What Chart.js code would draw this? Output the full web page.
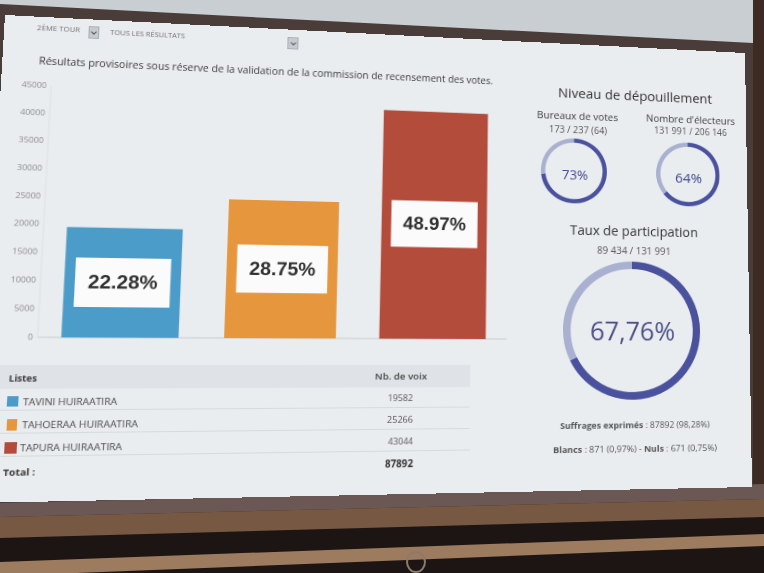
<!DOCTYPE html>
<html lang="fr">
<head>
<meta charset="utf-8">
<title>Résultats provisoires – 2ème tour</title>
<script src="https://cdn.jsdelivr.net/npm/chart.js@4.4.1/dist/chart.umd.min.js"></script>
<style>
html,body{margin:0;padding:0;width:764px;height:573px;overflow:hidden;background:#1c1513;}
#bg{position:absolute;left:0;top:0;}
#screen{position:absolute;left:0;top:0;width:760px;height:480px;background:#eaedf0;transform-origin:0 0;overflow:hidden;}
.tx{position:absolute;white-space:nowrap;line-height:1;transform:translate(-50%,-50%);font-family:"Open Sans",sans-serif;}
.rc{position:absolute;box-sizing:border-box;}
.chev{position:absolute;left:50%;top:42%;width:3px;height:3px;border-right:1px solid #555;border-bottom:1px solid #555;transform:translate(-50%,-50%) rotate(45deg);}
canvas{position:absolute;}
</style>
</head>
<body>
<svg id="bg" width="764" height="573" viewBox="0 0 764 573">
  <rect x="0" y="0" width="764" height="573" fill="#1c1513"/>
  <polygon points="0,0 764,0 764,500 0,520" fill="#3d2a23"/>
  <polygon points="0,0 753,0 753,492 0,510" fill="#4a3c39"/>
  <polygon points="0,0 753,0 753,43 0,4" fill="#c9ced3"/>
  <polygon points="0,503 764,484 764,499 0,517" fill="#6b5854"/>
  <polygon points="0,517 764,499 764,517 0,538" fill="#775843"/>
  <polygon points="0,562 764,534 764,546 0,576" fill="#9c7b5e"/>
  <ellipse cx="416" cy="562" rx="9" ry="10" fill="none" stroke="#8c7b6c" stroke-width="2"/>
</svg>
<div id="screen"></div>
<script>
// ---------- data ----------
const categories = ['TAVINI HUIRAATIRA', 'TAHOERAA HUIRAATIRA', 'TAPURA HUIRAATIRA'];
const votes = [19582, 25266, 43044];
const shares = ['22.28%', '28.75%', '48.97%'];
const listColors = ['#4b9cc9', '#e6963c', '#b44c3c'];
const totalVotes = 87892;
const yTicks = [0, 5000, 10000, 15000, 20000, 25000, 30000, 35000, 40000, 45000];
const bureaux = [173, 64];            // 173 / 237
const electeurs = [131991, 74155];    // 131 991 / 206 146
const participation = [89434, 42557]; // 89 434 / 131 991
const bureauxLabel = '73%';
const electeursLabel = '64%';
const participationLabel = '67,76%';

// ---------- photographed screen: perspective mapping ----------
const W = 760, H = 480;
const QUAD = [[5, 15], [745, 53], [752, 487], [-24, 503]];
function homography(q) {
  const [x0, y0] = q[0], [x1, y1] = q[1], [x2, y2] = q[2], [x3, y3] = q[3];
  const dx1 = x1 - x2, dx2 = x3 - x2, sx = x0 - x1 + x2 - x3;
  const dy1 = y1 - y2, dy2 = y3 - y2, sy = y0 - y1 + y2 - y3;
  const den = dx1 * dy2 - dx2 * dy1;
  const g = (sx * dy2 - dx2 * sy) / den, h = (dx1 * sy - sx * dy1) / den;
  const a = x1 - x0 + g * x1, b = x3 - x0 + h * x3, c = x0;
  const d = y1 - y0 + g * y1, e = y3 - y0 + h * y3, f = y0;
  return [[a / W, b / H, c], [d / W, e / H, f], [g / W, h / H, 1]];
}
function inv3(m) {
  const [a, b, c] = m[0], [d, e, f] = m[1], [g, h, i] = m[2];
  const A = e * i - f * h, B = -(d * i - f * g), C = d * h - e * g;
  const det = a * A + b * B + c * C;
  return [[A / det, -(b * i - c * h) / det, (b * f - c * e) / det],
          [B / det, (a * i - c * g) / det, -(a * f - c * d) / det],
          [C / det, -(a * h - b * g) / det, (a * e - b * d) / det]];
}
const M = homography(QUAD), MI = inv3(M);
function apply(m, x, y) {
  const X = m[0][0] * x + m[0][1] * y + m[0][2];
  const Y = m[1][0] * x + m[1][1] * y + m[1][2];
  const w = m[2][0] * x + m[2][1] * y + m[2][2];
  return [X / w, Y / w];
}
const fwd = (x, y) => apply(M, x, y);
const toFlat = (x, y) => apply(MI, x, y);
function scaleAt(p) {
  const a = fwd(p[0], p[1]), b = fwd(p[0] + 1, p[1]), c = fwd(p[0], p[1] + 1);
  return [Math.hypot(b[0] - a[0], b[1] - a[1]), Math.hypot(c[0] - a[0], c[1] - a[1])];
}
const screen = document.getElementById('screen');
screen.style.transform = 'matrix3d(' + [M[0][0], M[1][0], 0, M[2][0], M[0][1], M[1][1], 0, M[2][1], 0, 0, 1, 0, M[0][2], M[1][2], 0, M[2][2]].join(',') + ')';

// ---------- helpers ----------
function text(t, x1, y1, x2, y2, opt = {}) {
  const el = document.createElement('div');
  el.className = 'tx';
  if (opt.html) el.innerHTML = t; else el.textContent = t;
  el.style.fontSize = '40px';
  el.style.fontWeight = opt.w || 400;
  el.style.color = opt.c || '#333';
  if (opt.ff) el.style.fontFamily = opt.ff;
  screen.appendChild(el);
  const a = toFlat(x1, y1), b = toFlat(x2, y2);
  const w0 = el.offsetWidth;
  el.style.fontSize = (40 * (b[0] - a[0]) / w0).toFixed(2) + 'px';
  el.style.left = ((a[0] + b[0]) / 2).toFixed(2) + 'px';
  el.style.top = ((a[1] + b[1]) / 2).toFixed(2) + 'px';
  return el;
}
function rect(x1, y1, x2, y2, style) {
  const a = toFlat(x1, y1), b = toFlat(x2, y2);
  const el = document.createElement('div');
  el.className = 'rc';
  el.style.left = a[0] + 'px'; el.style.top = a[1] + 'px';
  el.style.width = (b[0] - a[0]) + 'px'; el.style.height = (b[1] - a[1]) + 'px';
  Object.assign(el.style, style);
  screen.appendChild(el);
  return el;
}
function dropdown(x1, y1, x2, y2) {
  const el = rect(x1, y1, x2, y2, {background: '#c6cbd1', border: '1px solid #aab0b7'});
  const c = document.createElement('div');
  c.className = 'chev';
  el.appendChild(c);
}

// ---------- header controls ----------
text('2ÈME TOUR', 37, 29, 80, 29.5, {c: '#707070'});
dropdown(89, 26, 99, 39);
text('TOUS LES RÉSULTATS', 110, 34, 185, 35.5, {c: '#707070'});
dropdown(288, 37, 298, 50);
text('Résultats provisoires sous réserve de la validation de la commission de recensement des votes.', 39, 59, 493, 82, {c: '#3a3a3a'});

// ---------- bar chart ----------
const boxLabels = {
  id: 'boxLabels',
  afterDatasetsDraw(chart) {
    const ctx = chart.ctx;
    chart.getDatasetMeta(0).data.forEach((bar, i) => {
      const w = bar.width * 0.82, h = 49;
      const cx = bar.x, cy = (bar.y + bar.base) / 2;
      ctx.save();
      ctx.fillStyle = '#fbfbfb';
      ctx.fillRect(cx - w / 2, cy - h / 2, w, h);
      ctx.fillStyle = '#2f2f2f';
      ctx.font = 'bold 19px "Liberation Sans", Arial, sans-serif';
      ctx.textAlign = 'center';
      ctx.textBaseline = 'middle';
      ctx.fillText(shares[i], cx, cy + 1);
      ctx.restore();
    });
  }
};
function barConfig() {
  return {
    type: 'bar',
    data: {labels: categories, datasets: [{data: votes, backgroundColor: listColors, borderWidth: 0, categoryPercentage: 0.715, barPercentage: 1}]},
    options: {
      responsive: false, animation: false, devicePixelRatio: 2, events: [],
      layout: {padding: 0},
      plugins: {legend: {display: false}, tooltip: {enabled: false}},
      scales: {
        x: {ticks: {display: false}, grid: {display: false, drawTicks: false}, border: {display: true, color: '#c8cdd1'}},
        y: {min: 0, max: 45000,
            afterBuildTicks: (axis) => { axis.ticks = yTicks.map(v => ({value: v})); },
            ticks: {color: '#8a8a8a', font: {family: 'Open Sans', size: 8}, padding: 4, callback: (v) => String(v)},
            grid: {display: false, drawTicks: false},
            border: {display: true, color: '#dde1e4'}}
      }
    },
    plugins: [boxLabels]
  };
}
(function () {
  const p0 = toFlat(37, 338), p40 = toFlat(41, 113.3), pr = toFlat(506, 339);
  const area = {left: p0[0], bottom: p0[1], right: pr[0]};
  area.top = area.bottom - (area.bottom - p40[1]) * 45 / 40;
  let cv = document.createElement('canvas');
  cv.width = 600; cv.height = 300;
  screen.appendChild(cv);
  const probe = new Chart(cv, barConfig());
  const ca = probe.chartArea;
  const ml = ca.left, mt = ca.top, mr = 600 - ca.right, mb = 300 - ca.bottom;
  probe.destroy(); cv.remove();
  cv = document.createElement('canvas');
  cv.width = Math.round(ml + area.right - area.left + mr);
  cv.height = Math.round(mt + area.bottom - area.top + mb);
  cv.style.left = (area.left - ml) + 'px';
  cv.style.top = (area.top - mt) + 'px';
  screen.appendChild(cv);
  new Chart(cv, barConfig());
})();

// ---------- table ----------
rect(-20, 365.5, 470, 387, {background: '#dfe3e7'});
[410, 433, 456].forEach(y => rect(0, y, 470, y + 1, {background: '#d6dade', height: '1px'}));
text('Listes', 9, 378, 37, 378.5, {w: 700, c: '#333'});
text('Nb. de voix', 375, 376.5, 427, 377, {w: 600, c: '#444'});
const ROWS = [
  {sq: [7, 396, 18, 407], name: [23, 402, 117, 402.5], val: [388, 398, 413, 398]},
  {sq: [7, 419, 17, 431], name: [22, 424, 138, 424.5], val: [387, 420, 413, 420]},
  {sq: [5, 442, 16, 454], name: [20, 447, 122, 447.5], val: [388, 442, 413, 442]}
];
categories.forEach((name, i) => {
  const r = ROWS[i];
  rect(r.sq[0], r.sq[1], r.sq[2], r.sq[3], {background: listColors[i]});
  text(name, r.name[0], r.name[1], r.name[2], r.name[3], {c: '#4a4a4a'});
  text(String(votes[i]), r.val[0], r.val[1], r.val[2], r.val[3], {c: '#555'});
});
text('Total :', 3, 473, 35, 473, {w: 700, c: '#333'});
text(String(totalVotes), 385, 464, 413, 464, {w: 700, c: '#333'});

// ---------- right panel ----------
const DARK = '#4a529e', LIGHT = '#aab0d0';
function donut(data, cx, cy, rx, ry, th) {
  const c = toFlat(cx, cy), s = scaleAt(c);
  const r = (rx / s[0] + ry / s[1]) / 2, t = th / ((s[0] + s[1]) / 2);
  const size = Math.round(2 * r);
  const cv = document.createElement('canvas');
  cv.width = size; cv.height = size;
  cv.style.left = (c[0] - size / 2) + 'px';
  cv.style.top = (c[1] - size / 2) + 'px';
  screen.appendChild(cv);
  new Chart(cv, {
    type: 'doughnut',
    data: {datasets: [{data: data, backgroundColor: [DARK, LIGHT], borderWidth: 0}]},
    options: {responsive: false, animation: false, devicePixelRatio: 2, events: [],
      cutout: ((1 - t / r) * 100).toFixed(2) + '%', layout: {padding: 0},
      plugins: {legend: {display: false}, tooltip: {enabled: false}}}
  });
}
text('Niveau de dépouillement', 558, 94.5, 712, 95.5, {c: '#333'});
text('Bureaux de votes', 537, 116.5, 618, 116.5, {c: '#3a3a3a'});
text('173 / 237 (64)', 549, 130.5, 607, 130.5, {c: '#555'});
text('Nombre d\'électeurs', 646, 119.5, 735, 120.5, {c: '#3a3a3a'});
text('131 991 / 206 146', 654, 131.5, 727, 132, {c: '#555'});
donut(bureaux, 574, 170.5, 33, 32.5, 4.3);
donut(electeurs, 688, 174.5, 31, 32.5, 4.3);
text(bureauxLabel, 562, 175, 588, 175, {c: '#3f468c'});
text(electeursLabel, 675, 178, 702, 178, {c: '#3f468c'});
text('Taux de participation', 570, 231.5, 698, 231.5, {c: '#333'});
text('89 434 / 131 991', 597, 250.5, 671, 250.5, {c: '#555'});
donut(participation, 632, 330.5, 67, 70.5, 7.5);
text(participationLabel, 590, 331, 675, 331, {c: '#4b4f86'});
text('<b>Suffrages exprimés</b> : 87892 (98,28%)', 560, 425, 710, 425, {html: true, c: '#555'});
text('<b>Blancs</b> : 871 (0,97%) - <b>Nuls</b> : 671 (0,75%)', 553, 449, 717, 449, {html: true, c: '#555'});
</script>
</body>
</html>
